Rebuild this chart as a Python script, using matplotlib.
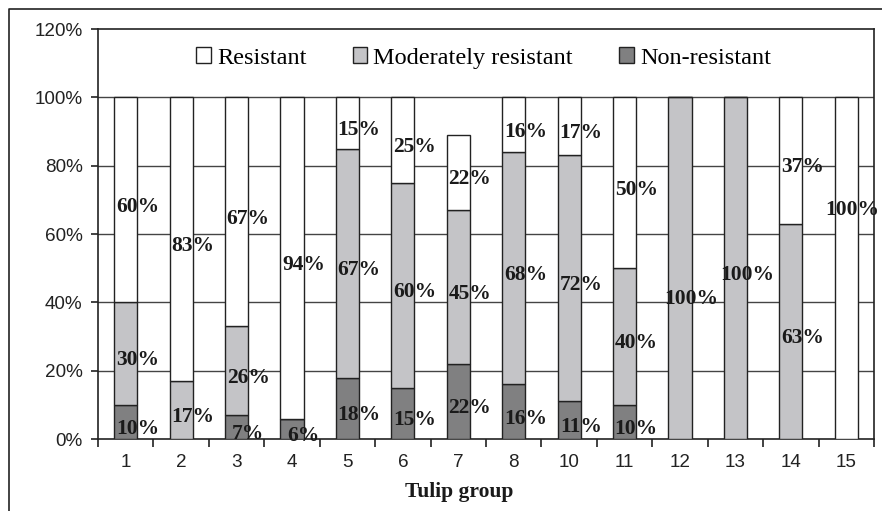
import matplotlib
matplotlib.use("Agg")
import matplotlib.pyplot as plt
from matplotlib.lines import Line2D
from matplotlib.patches import Patch
import numpy as np

groups = ["1", "2", "3", "4", "5", "6", "7", "8", "10", "11", "12", "13", "14", "15"]
non_resistant = [10, 0, 7, 6, 18, 15, 22, 16, 11, 10, 0, 0, 0, 0]
moderately_resistant = [30, 17, 26, 0, 67, 60, 45, 68, 72, 40, 100, 100, 63, 0]
resistant = [60, 83, 67, 94, 15, 25, 22, 16, 17, 50, 0, 0, 37, 100]
y_ticks = [0, 20, 40, 60, 80, 100, 120]

W, H = 882, 511
fig = plt.figure(figsize=(W / 100, H / 100), dpi=100)
ax = fig.add_axes([98 / W, 1 - 439 / H, (874 - 98) / W, (439 - 29) / H])

x = np.arange(len(groups))
bw = 0.42
edge = "#222222"
c_nr, c_mr, c_r = "#808081", "#c4c4c7", "#ffffff"

nr = np.array(non_resistant, float)
mr = np.array(moderately_resistant, float)
rs = np.array(resistant, float)

ax.bar(x, nr, bw, color=c_nr, edgecolor=edge, linewidth=1.0, zorder=3)
ax.bar(x, mr, bw, bottom=nr, color=c_mr, edgecolor=edge, linewidth=1.0, zorder=3)
ax.bar(x, rs, bw, bottom=nr + mr, color=c_r, edgecolor=edge, linewidth=1.0, zorder=3)

# label placement tweaks (style only): (group index, segment index) -> (dx, dy)
label_nudge = {(10, 1): (0.0, -7), (13, 2): (-0.11, 19)}
lab_font = dict(family="Liberation Serif", fontweight="bold", fontsize=15.5, color="#1a1a1a")
dx = 0.21
for i in range(len(groups)):
    segs = [(nr[i], 0), (mr[i], nr[i]), (rs[i], nr[i] + mr[i])]
    for k, (val, base) in enumerate(segs):
        if val > 0:
            ndx, ndy = label_nudge.get((i, k), (0.0, 0.0))
            ax.text(x[i] + dx + ndx, base + val / 2 - 2 + ndy, f"{int(val)}%", ha="center",
                    va="center", zorder=5, **lab_font)

ax.set_xlim(-0.5, len(groups) - 0.5)
ax.set_ylim(0, 120)
ax.set_yticks(y_ticks)
ax.set_yticklabels([f"{v}%" for v in y_ticks], family="Liberation Sans", fontsize=13.6, color="#222222")
ax.set_xticks(x)
ax.set_xticklabels(groups, family="Liberation Sans", fontsize=13.6, color="#222222")
ax.tick_params(axis="x", length=0, pad=11)
ax.set_xticks(np.arange(-0.5, len(groups), 1.0), minor=True)
ax.tick_params(axis="x", which="minor", length=6, width=1.2, color="#222222")
ax.tick_params(axis="y", length=5, width=1.2, color="#222222", pad=6)

for v in y_ticks[1:-1]:
    ax.axhline(v, color="#444444", linewidth=1.0, zorder=1)

for s in ax.spines.values():
    s.set_color("#222222")
    s.set_linewidth(1.2)

fig.text(459 / W, 1 - 492 / H, "Tulip group", family="Liberation Serif", fontweight="bold",
         fontsize=15.5, color="#1a1a1a", ha="center", va="center")

handles = [Patch(facecolor=c_r, edgecolor=edge, label="Resistant"),
           Patch(facecolor=c_mr, edgecolor=edge, label="Moderately resistant"),
           Patch(facecolor=c_nr, edgecolor=edge, label="Non-resistant")]
ax.legend(handles=handles, loc="center", bbox_to_anchor=(0.497, 0.929), ncol=3, frameon=False,
          prop={"family": "Liberation Serif", "size": 17.5}, handlelength=0.6, handleheight=0.6,
          handletextpad=0.25, columnspacing=1.9, borderpad=0)

fig.add_artist(Line2D([9 / W, 9 / W, 1.0], [0, 1 - 9 / H, 1 - 9 / H], color="#222222", linewidth=1.2,
                      transform=fig.transFigure))

fig.savefig("out.png", dpi=100, facecolor="white")
